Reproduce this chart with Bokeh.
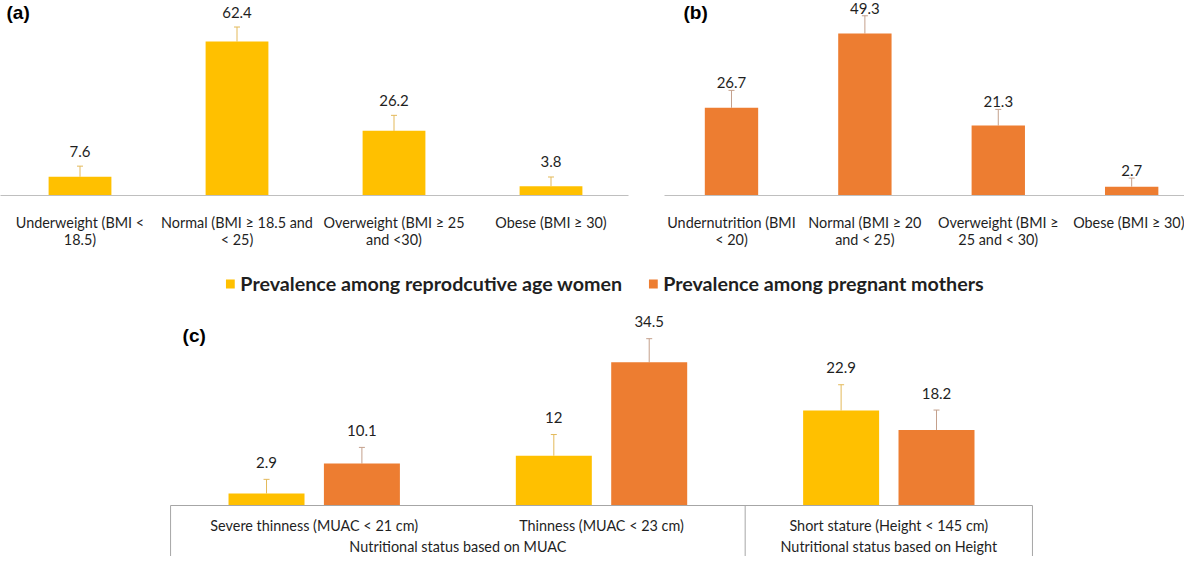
import numpy as np
from bokeh.plotting import figure
from bokeh.models import ColumnDataSource, Range1d, FixedTicker, Whisker, TeeHead
from bokeh.layouts import column, row
from bokeh.core.properties import value
from bokeh.transform import dodge
from bokeh.embed import file_html
from bokeh.resources import INLINE

# ---------------- data ----------------
a_categories = ["Underweight (BMI <\n18.5)", "Normal (BMI \u2265 18.5 and\n< 25)",
                "Overweight (BMI \u2265 25\nand <30)", "Obese (BMI \u2265 30)"]
a_values = [7.6, 62.4, 26.2, 3.8]
a_errors = [4.3, 5.9, 6.3, 3.7]

b_categories = ["Undernutrition (BMI\n< 20)", "Normal (BMI \u2265 20\nand < 25)",
                "Overweight (BMI \u2265\n25 and < 30)", "Obese (BMI \u2265 30)"]
b_values = [26.7, 49.3, 21.3, 2.7]
b_errors = [5.3, 5.4, 4.9, 2.6]

c_categories = ["Severe thinness (MUAC < 21 cm)", "Thinness (MUAC < 23 cm)",
                "Short stature (Height < 145 cm)"]
c_groups = ["Nutritional status based on MUAC", "Nutritional status based on Height"]
c_group_members = [[0, 1], [2]]
c_women = [2.9, 12, 22.9]
c_women_err = [3.4, 5.1, 6.2]
c_pregnant = [10.1, 34.5, 18.2]
c_pregnant_err = [3.9, 5.7, 4.8]

series_names = ["Prevalence among reprodcutive age women", "Prevalence among pregnant mothers"]

# ---------------- style ----------------
YELLOW = "#FFC000"
ORANGE = "#ED7D31"
ERR_Y = "#E3B95A"
ERR_O = "#C4A08C"
AXIS = "#BFBFBF"
BOX = "#A6A6A6"
TXT = "#1f1f1f"
FONT = "Lato"
LBL = "14.4px"


def fmt(v):
    return f"{v:g}"


def bmi_panel(width, cats, vals, errs, color, errc, xr, yr, tag, tag_dx, lab_dy, min_left, min_right):
    p = figure(width=width, height=250, x_range=xr, y_range=yr,
               output_backend="svg", toolbar_location=None, tools="",
               y_axis_location=None, min_border_left=min_left, min_border_right=min_right,
               min_border_top=0, min_border_bottom=50)
    p.outline_line_color = None
    p.xgrid.visible = False
    p.ygrid.visible = False
    idx = list(range(len(cats)))
    src = ColumnDataSource(dict(x=idx, v=vals, top=[v + e for v, e in zip(vals, errs)],
                                lab=[fmt(v) for v in vals]))
    p.vbar(x="x", top="v", bottom=0, width=0.4, source=src, fill_color=color, line_color=None)
    p.add_layout(Whisker(base="x", lower="v", upper="top", source=src, line_color=errc, line_width=1,
                         upper_head=TeeHead(size=6, line_color=errc, line_width=1), lower_head=None))
    p.text(x="x", y="top", text="lab", source=src, y_offset=lab_dy, text_align="center",
           text_baseline="middle", text_font=value(FONT), text_font_size="15px", text_color=TXT)
    p.text(x=[xr.start], y=[yr.end], text=[tag], x_offset=tag_dx, y_offset=1, text_align="left",
           text_baseline="top", text_font=value("Liberation Sans"), text_font_style="bold",
           text_font_size="19px", text_color="black")
    ax = p.xaxis[0]
    ax.ticker = FixedTicker(ticks=idx)
    ax.major_label_overrides = {i: c for i, c in zip(idx, cats)}
    ax.major_tick_line_color = None
    ax.minor_tick_line_color = None
    ax.axis_line_color = AXIS
    ax.axis_line_width = 1
    ax.major_label_standoff = 12
    ax.major_label_text_font = FONT
    ax.major_label_text_font_size = LBL
    ax.major_label_text_line_height = 1.0
    ax.major_label_text_color = TXT
    return p


pa = bmi_panel(648, a_categories, a_values, a_errors, YELLOW, ERR_Y,
               Range1d(-0.5064, 3.4936), Range1d(0, 79.05), "(a)", 6, -15, 0, 20)
pb = bmi_panel(536, b_categories, b_values, b_errors, ORANGE, ERR_O,
               Range1d(-0.5022, 3.396), Range1d(0, 59.35), "(b)", 19, -7.5, 16, 0)

# ---------------- panel c ----------------
cy0, cy1 = -12.29, 61.45
pc = figure(width=1184, height=306, x_range=Range1d(-1.0084, 3.0292), y_range=Range1d(cy0, cy1),
            output_backend="svg", toolbar_location=None, tools="",
            x_axis_location=None, y_axis_location=None,
            min_border_left=24, min_border_right=0, min_border_top=0, min_border_bottom=0)
pc.outline_line_color = None
pc.xgrid.visible = False
pc.ygrid.visible = False

cidx = list(range(len(c_categories)))
csrc = ColumnDataSource(dict(
    x=cidx,
    w=c_women, wtop=[v + e for v, e in zip(c_women, c_women_err)], wlab=[fmt(v) for v in c_women],
    m=c_pregnant, mtop=[v + e for v, e in zip(c_pregnant, c_pregnant_err)], mlab=[fmt(v) for v in c_pregnant],
    cat=c_categories,
))
off = 0.166
bw = 0.2645
pc.vbar(x=dodge("x", -off, range=pc.x_range), top="w", bottom=0, width=bw, source=csrc,
        fill_color=YELLOW, line_color=None, legend_label=series_names[0])
pc.vbar(x=dodge("x", off, range=pc.x_range), top="m", bottom=0, width=bw, source=csrc,
        fill_color=ORANGE, line_color=None, legend_label=series_names[1])
pc.add_layout(Whisker(base=dodge("x", -off, range=pc.x_range), lower="w", upper="wtop", source=csrc,
                      line_color=ERR_Y, upper_head=TeeHead(size=6, line_color=ERR_Y), lower_head=None))
pc.add_layout(Whisker(base=dodge("x", off, range=pc.x_range), lower="m", upper="mtop", source=csrc,
                      line_color=ERR_O, upper_head=TeeHead(size=6, line_color=ERR_O), lower_head=None))
pc.text(x=dodge("x", -off, range=pc.x_range), y="wtop", text="wlab", source=csrc, y_offset=-17,
        text_align="center", text_baseline="middle", text_font=value(FONT), text_font_size="15px",
        text_color=TXT)
pc.text(x=dodge("x", off, range=pc.x_range), y="mtop", text="mlab", source=csrc, y_offset=-17,
        text_align="center", text_baseline="middle", text_font=value(FONT), text_font_size="15px",
        text_color=TXT)

# category box
left_edge = min(cidx) - 0.5
right_edge = max(cidx) + 0.5
bounds = [left_edge] + [max(m) + 0.5 for m in c_group_members]
pc.segment(x0=[left_edge], y0=[0], x1=[right_edge], y1=[0], line_color=BOX, line_width=1)
pc.segment(x0=bounds, y0=[0] * len(bounds), x1=bounds, y1=[cy0] * len(bounds), line_color=BOX, line_width=1)
pc.text(x="x", y=0, text="cat", source=csrc, y_offset=20, text_align="center", text_baseline="middle",
        text_font=value(FONT), text_font_size=LBL, text_color=TXT)
gx = [float(np.mean(m)) for m in c_group_members]
pc.text(x=gx, y=[0] * len(gx), text=c_groups, y_offset=41, text_align="center", text_baseline="middle",
        text_font=value(FONT), text_font_size=LBL, text_color=TXT)
pc.text(x=[left_edge], y=[cy1], text=["(c)"], x_offset=12, y_offset=85, text_align="left",
        text_baseline="middle", text_font=value("Liberation Sans"), text_font_style="bold",
        text_font_size="19px", text_color="black")

lg = pc.legend[0]
lg.location = "top_center"
lg.orientation = "horizontal"
lg.label_text_font = FONT
lg.label_text_font_style = "bold"
lg.label_text_font_size = "19.7px"
lg.label_text_color = TXT
lg.glyph_width = 11
lg.glyph_height = 11
lg.label_standoff = 5
lg.spacing = 25
lg.border_line_color = None
lg.background_fill_alpha = 0
lg.padding = 0
lg.margin = 22

layout = column(row(pa, pb), pc)
open("out.html", "w").write(file_html(layout, INLINE))
